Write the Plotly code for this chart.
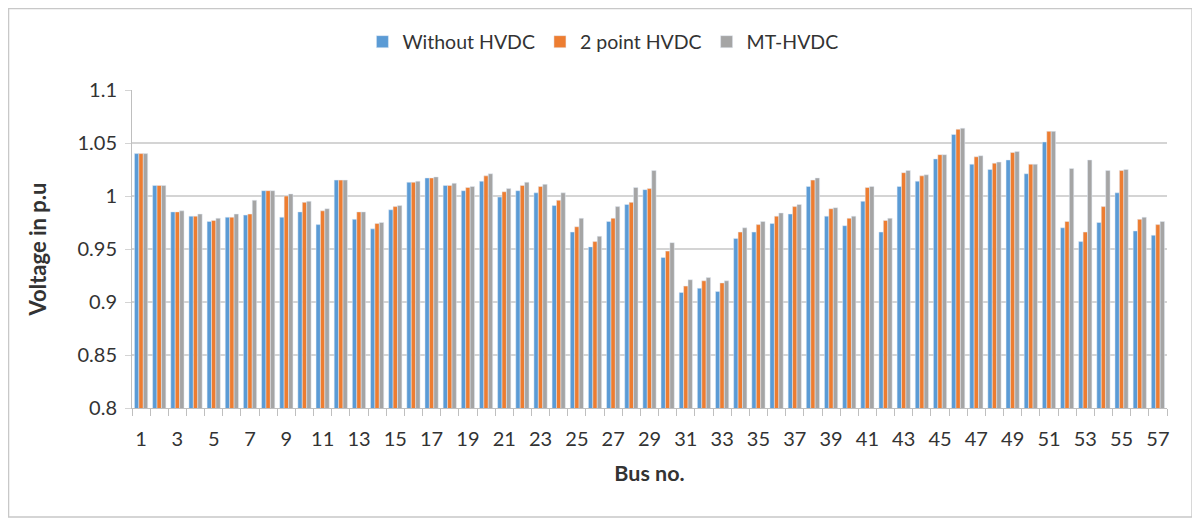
import plotly.graph_objects as go

# bus numbers and voltages (p.u.)
bus = list(range(1, 58))

without_hvdc = [
    1.040, 1.010, 0.985, 0.981, 0.976, 0.980, 0.982, 1.005, 0.980, 0.985,
    0.973, 1.015, 0.978, 0.969, 0.987, 1.013, 1.017, 1.010, 1.005, 1.014,
    0.999, 1.005, 1.003, 0.991, 0.966, 0.952, 0.976, 0.992, 1.006, 0.942,
    0.909, 0.913, 0.910, 0.960, 0.966, 0.974, 0.983, 1.009, 0.981, 0.972,
    0.995, 0.966, 1.009, 1.014, 1.035, 1.058, 1.030, 1.025, 1.034, 1.021,
    1.051, 0.970, 0.957, 0.975, 1.003, 0.967, 0.963,
]
two_point_hvdc = [
    1.040, 1.010, 0.985, 0.981, 0.977, 0.980, 0.983, 1.005, 1.000, 0.994,
    0.986, 1.015, 0.985, 0.974, 0.990, 1.013, 1.017, 1.010, 1.008, 1.019,
    1.004, 1.010, 1.009, 0.996, 0.971, 0.957, 0.979, 0.994, 1.007, 0.948,
    0.915, 0.920, 0.918, 0.966, 0.973, 0.981, 0.990, 1.015, 0.988, 0.979,
    1.008, 0.977, 1.022, 1.019, 1.039, 1.063, 1.037, 1.031, 1.041, 1.030,
    1.061, 0.976, 0.966, 0.990, 1.024, 0.978, 0.973,
]
mt_hvdc = [
    1.040, 1.010, 0.986, 0.983, 0.979, 0.983, 0.996, 1.005, 1.002, 0.995,
    0.988, 1.015, 0.985, 0.975, 0.991, 1.014, 1.018, 1.012, 1.009, 1.021,
    1.007, 1.013, 1.011, 1.003, 0.979, 0.962, 0.990, 1.008, 1.024, 0.956,
    0.921, 0.923, 0.920, 0.970, 0.976, 0.984, 0.992, 1.017, 0.989, 0.981,
    1.009, 0.979, 1.024, 1.020, 1.039, 1.064, 1.038, 1.032, 1.042, 1.030,
    1.061, 1.026, 1.034, 1.024, 1.025, 0.980, 0.976,
]

font = "Lato"
grid = "#D4D4D4"

fig = go.Figure()
fig.add_trace(go.Bar(x=bus, y=without_hvdc, name="Without HVDC", marker_color="#5B9BD5"))
fig.add_trace(go.Bar(x=bus, y=two_point_hvdc, name="2 point HVDC", marker_color="#ED7D31"))
fig.add_trace(go.Bar(x=bus, y=mt_hvdc, name="MT-HVDC", marker_color="#A5A5A5"))

# page body has an 8px margin, so the figure is a bit smaller than the window
fig.update_layout(
    width=1192, height=515,
    margin=dict(l=124, r=33, t=82, b=115),
    paper_bgcolor="white", plot_bgcolor="white",
    barmode="group", bargap=0.27, bargroupgap=0,
    font=dict(family=font, size=20, color="#333333"),
    legend=dict(orientation="h", x=0.455, xanchor="center", y=1.151, yanchor="middle",
                font=dict(size=19.5), itemwidth=30, traceorder="normal"),
    showlegend=True,
)

fig.update_xaxes(
    range=[0.5, 57.5], tickmode="linear", tick0=1, dtick=2,
    showgrid=False, showline=True, linecolor="#BFBFBF", linewidth=1,
    ticks="", ticklabelstandoff=13,
    minor=dict(tickmode="linear", tick0=0.5, dtick=1, ticks="outside",
               ticklen=7, tickcolor="#BFBFBF", showgrid=False),
    title=dict(text="<b>Bus no.</b>", font=dict(size=21.5), standoff=16),
)
fig.update_yaxes(
    range=[0.8, 1.1], tickmode="linear", tick0=0.8, dtick=0.05,
    showgrid=True, gridcolor=grid, gridwidth=1.5,
    showline=True, linecolor="#BFBFBF", linewidth=1,
    ticks="outside", ticklen=6, tickcolor=grid, ticklabelstandoff=4,
    zeroline=False,
    title=dict(text="<b>Voltage in p.u</b>", font=dict(size=22), standoff=24),
)

# outer chart border
fig.add_shape(type="rect", xref="paper", yref="paper",
              x0=-0.1193, x1=1.0242, y0=-0.3428, y1=1.256,
              line=dict(color="#C8C8C8", width=1.5), layer="below")

fig.write_html("out.html")
